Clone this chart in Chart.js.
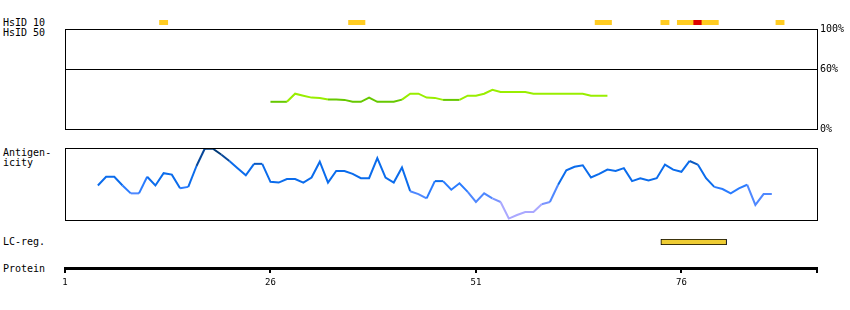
<!DOCTYPE html>
<html>
<head>
<meta charset="utf-8">
<script src="https://cdn.jsdelivr.net/npm/chart.js@4.4.1/dist/chart.umd.min.js"></script>
<style>
  body { margin: 0; background: #fff; }
  #wrap { position: relative; width: 850px; height: 310px; overflow: hidden;
          font-family: "DejaVu Sans Mono", monospace; font-size: 10px; color: #000; }
  .lbl { position: absolute; left: 3px; line-height: 10px; white-space: nowrap; }
  canvas { position: absolute; }
</style>
</head>
<body>
<div id="wrap">
  <div class="lbl" style="top:18px">HsID 10</div>
  <div class="lbl" style="top:28px">HsID 50</div>
  <div class="lbl" style="top:148px">Antigen-</div>
  <div class="lbl" style="top:158px">icity</div>
  <div class="lbl" style="top:237px">LC-reg.</div>
  <div class="lbl" style="top:264px">Protein</div>

  <canvas id="hsid50" width="786" height="118" style="left:64px;top:20px"></canvas>
  <canvas id="hsid10" width="754" height="5" style="left:64px;top:20px"></canvas>
  <canvas id="antigen" width="754" height="84" style="left:64px;top:140px"></canvas>
  <canvas id="lcreg" width="754" height="6" style="left:64px;top:239px"></canvas>
  <canvas id="protein" width="774" height="32" style="left:54px;top:258px"></canvas>
</div>

<script>
// protein positions (residues)
const residueMin = 1;
const residueMax = 92.5;
const proteinTicks = [1, 26, 51, 76, 92.5];

// HsID 10 identity stretches [from, to], level 2 = highest identity
const hsid10Ranges = [[12.5, 13.5], [35.5, 37.5], [65.5, 67.5], [73.5, 74.5],
                      [75.5, 77.5], [77.5, 78.5], [78.5, 80.5], [87.5, 88.5]];
const hsid10Level = [1, 1, 1, 1, 1, 2, 1, 1];

// HsID 50 identity (%), first residue 26
const hsid50Start = 26;
const hsid50 = [27.2, 27.2, 27.2, 35.3, 33.3, 31.4, 31.1, 29.4, 29.4, 29.1,
                27.2, 27.2, 31.4, 27.2, 27.2, 27.2, 29.4, 35.3, 35.3, 31.4,
                31.1, 29.1, 29.1, 29.1, 33.3, 33.3, 35.3, 39.2, 37.0, 37.0,
                37.0, 37.0, 35.3, 35.3, 35.3, 35.3, 35.3, 35.3, 35.3, 33.3,
                33.3, 33.3];
const hsid50Ticks = [0, 60, 100];

// antigenicity (relative, 0-100), first residue 5
const antigenStart = 5;
const antigenicity = [48, 60, 60, 48, 37, 37, 60, 48, 65, 63,
                      44, 46, 75, 99, 99, 91, 82, 72, 62, 78,
                      78, 53, 52, 57, 57, 52, 59, 81, 52, 68,
                      68, 64, 58, 58, 86, 59, 52, 73, 40, 36,
                      30, 54, 54, 42, 51, 39, 25, 37, 30, 25,
                      2, 7, 11, 11, 22, 25, 49, 69, 74, 76,
                      59, 64, 70, 68, 72, 54, 58, 55, 58, 77,
                      70, 67, 82, 77, 58, 46, 43, 37, 44, 49,
                      21, 36, 36];

// low complexity region
const lcRanges = [[73.5, 81.5]];

const monoFont = { family: '"DejaVu Sans Mono", monospace', size: 10 };

const boxFrame = {
    id: 'boxFrame',
    afterDraw(chart) {
        const { ctx, chartArea: a } = chart;
        ctx.save();
        ctx.strokeStyle = '#000';
        ctx.lineWidth = 1;
        ctx.strokeRect(a.left + 0.5, a.top + 0.5, a.width, a.height);
        ctx.restore();
    }
};

function baseOptions(padding) {
    return {
        responsive: false,
        animation: false,
        events: [],
        layout: { padding: padding },
        plugins: { legend: { display: false }, tooltip: { enabled: false } }
    };
}

function xScale() {
    return { type: 'linear', min: residueMin, max: residueMax, display: false };
}

function antigenColor(m) {
    if (m >= 93) return '#003a78';
    if (m >= 85) return '#07479a';
    if (m >= 78) return '#0a58c0';
    if (m >= 50) return '#0b6cec';
    if (m >= 40) return '#2a7cff';
    if (m >= 28) return '#4f88ff';
    if (m >= 18) return '#7a94ff';
    return '#aaa8ff';
}

function segMean(ctx) {
    return (ctx.p0.parsed.y + ctx.p1.parsed.y) / 2;
}

// --- HsID 10 track ---
new Chart(document.getElementById('hsid10'), {
    type: 'bar',
    data: {
        labels: ['HsID 10'],
        datasets: [{
            data: hsid10Ranges.map(r => ({ x: r, y: 'HsID 10' })),
            backgroundColor: hsid10Level.map(l => l === 2 ? '#dd0000' : '#ffcc22'),
            borderWidth: 0,
            barPercentage: 1,
            categoryPercentage: 1
        }]
    },
    options: Object.assign(baseOptions({ left: 1, right: 1 }), {
        indexAxis: 'y',
        scales: { x: xScale(), y: { display: false } }
    })
});

// --- HsID 50 panel ---
new Chart(document.getElementById('hsid50'), {
    type: 'line',
    data: {
        datasets: [{
            data: hsid50.map((v, i) => ({ x: hsid50Start + i, y: v })),
            borderWidth: 2,
            pointRadius: 0,
            borderColor: '#99ee00',
            segment: { borderColor: ctx => segMean(ctx) < 30 ? '#66c800' : '#99ee00' }
        }]
    },
    options: Object.assign(baseOptions({ left: 1, right: 0, top: 8, bottom: 8 }), {
        scales: {
            x: xScale(),
            y: {
                position: 'right',
                min: 0,
                max: 100,
                afterBuildTicks: axis => { axis.ticks = hsid50Ticks.map(v => ({ value: v })); },
                afterFit: axis => { axis.width = 33; },
                ticks: { callback: v => v + '%', font: monoFont, color: '#000', padding: 3 },
                grid: {
                    drawTicks: false,
                    color: ctx => ctx.tick && ctx.tick.value === 60 ? '#000' : 'rgba(0,0,0,0)',
                    lineWidth: 1
                },
                border: { display: false }
            }
        }
    }),
    plugins: [boxFrame]
});

// --- Antigenicity panel ---
new Chart(document.getElementById('antigen'), {
    type: 'line',
    data: {
        datasets: [{
            data: antigenicity.map((v, i) => ({ x: antigenStart + i, y: v })),
            borderWidth: 2,
            pointRadius: 0,
            borderColor: '#0b6cec',
            segment: { borderColor: ctx => antigenColor(segMean(ctx)) }
        }]
    },
    options: Object.assign(baseOptions({ left: 1, right: 1, top: 8, bottom: 4 }), {
        scales: { x: xScale(), y: { min: 0, max: 100, display: false } }
    }),
    plugins: [boxFrame]
});

// --- LC region ---
new Chart(document.getElementById('lcreg'), {
    type: 'bar',
    data: {
        labels: ['LC-reg.'],
        datasets: [{
            data: lcRanges.map(r => ({ x: r, y: 'LC-reg.' })),
            backgroundColor: '#eecc33',
            borderColor: '#000',
            borderWidth: 1,
            borderSkipped: false,
            barPercentage: 1,
            categoryPercentage: 1
        }]
    },
    options: Object.assign(baseOptions({ left: 1, right: 1 }), {
        indexAxis: 'y',
        scales: { x: xScale(), y: { display: false } }
    })
});

// --- Protein axis ---
new Chart(document.getElementById('protein'), {
    type: 'line',
    data: { datasets: [{ data: [] }] },
    options: Object.assign(baseOptions({ left: 11, right: 11, top: 0, bottom: 0 }), {
        scales: {
            x: {
                type: 'linear',
                position: 'bottom',
                min: residueMin,
                max: residueMax,
                afterBuildTicks: axis => { axis.ticks = proteinTicks.map(v => ({ value: v })); },
                afterFit: axis => { axis.height = 22; },
                ticks: {
                    autoSkip: false,
                    maxRotation: 0,
                    padding: 4,
                    color: '#000',
                    font: { family: '"DejaVu Sans Mono", monospace', size: 9 },
                    callback: v => Number.isInteger(v) ? String(v) : ''
                },
                grid: { drawOnChartArea: false, tickLength: 5, color: '#000', lineWidth: 2 },
                border: { display: true, color: '#000', width: 3 }
            },
            y: { display: false }
        }
    })
});
</script>
</body>
</html>
